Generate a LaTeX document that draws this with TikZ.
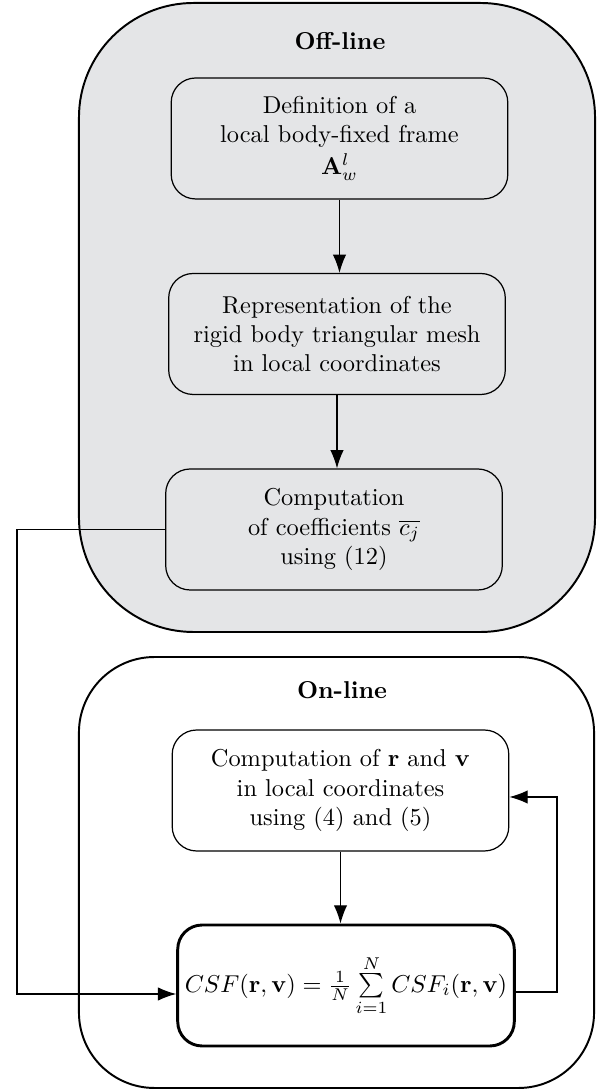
\documentclass[tikz,border=0pt]{standalone}
\usepackage{tikz}
\usetikzlibrary{arrows.meta}
\definecolor{hellgrau}{RGB}{228,229,231}

\begin{document}
\begin{tikzpicture}[x=0.41pt, y=0.41pt, line width=0.5pt,
    block/.style={draw, rounded corners=10pt, align=center, minimum width=138pt, minimum height=49.6pt, inner sep=2pt},
    hauptblock/.style={block, line width=1.2pt},
    bereich/.style={draw, line width=0.8pt},
    titel/.style={font=\bfseries},
    pfeil/.style={-{Latex[length=7.5pt,width=5.5pt]}}]
    \useasboundingbox (0,0) rectangle (600,1091);

    % Bereiche.
    \node[bereich, fill=hellgrau, rounded corners=47pt, minimum width=211.6pt, minimum height=257.9pt] (offline) at (337,773.5) {};
    \node[bereich, rounded corners=31pt, minimum width=211.2pt, minimum height=176.7pt] (online) at (336.5,218.5) {};
    \node[titel] (offtitel) at (340,1050) {Off-line};
    \node[titel] (ontitel) at (342,400.5) {On-line};

    % Bloecke.
    \node[block] (rahmen) at (339.5,952.5) {Definition of a\\ local body-fixed frame\\[1pt] $\mathbf{A}^{l}_{w}$};
    \node[block] (netz) at (337,757) {Representation of the\\ rigid body triangular mesh\\ in local coordinates};
    \node[block] (koeff) at (334,561.5) {Computation\\ of coefficients $\overline{c_j}$\\ using (12)};
    \node[block] (lokal) at (340.5,300.5) {Computation of $\mathbf{r}$ and $\mathbf{v}$\\ in local coordinates\\ using (4) and (5)};
    \node[hauptblock] (csf) at (346,105.5) {$CSF(\mathbf{r},\mathbf{v}) = \frac{1}{N}\sum\limits_{i=1}^{N} CSF_i(\mathbf{r},\mathbf{v})$};

    % Hilfspunkte.
    \coordinate (links) at (17,97);
    \coordinate (rechtsunten) at (557,99);
    \coordinate (rechtsoben) at (557,294);

    % Pfeile.
    \draw[pfeil] (rahmen.south) -- (rahmen.south |- netz.north);
    \draw[pfeil] (netz.south) -- (netz.south |- koeff.north);
    \draw[pfeil] (lokal.south) -- (lokal.south |- csf.north);
    \draw[pfeil] (koeff.west) -- (koeff.west -| links) -- (links) -- (csf.west |- links);
    \draw[pfeil] (csf.east |- rechtsunten) -- (rechtsunten) -- (rechtsoben) -- (lokal.east |- rechtsoben);
\end{tikzpicture}
\end{document}
